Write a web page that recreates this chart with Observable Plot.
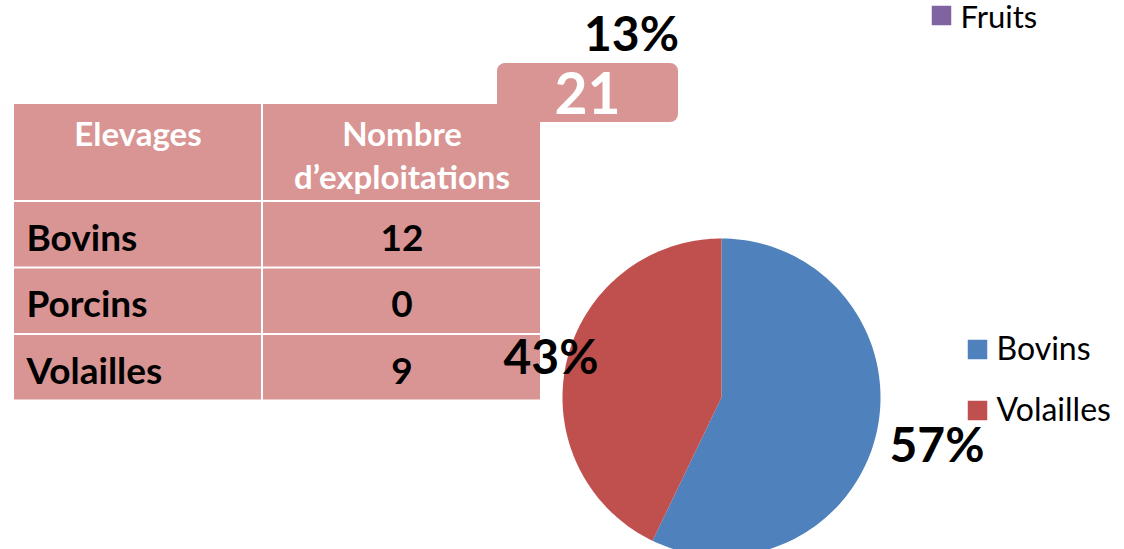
<!DOCTYPE html>
<html><head><meta charset="utf-8">
<script src="https://cdn.jsdelivr.net/npm/d3@7"></script>
<script src="https://cdn.jsdelivr.net/npm/@observablehq/plot@0.6"></script>
<style>html,body{margin:0;padding:0;background:#fff;overflow:hidden}</style>
</head><body><div id="chart"></div>
<script>
// ---- data ----
const elevages = ["Bovins", "Porcins", "Volailles"];
const exploitations = [12, 0, 9];
const headers = ["Elevages", "Nombre\nd’exploitations"];
const pieLegend = ["Bovins", "Volailles"];
const otherLegend = ["Fruits"];
const otherPercent = ["13%"];

// ---- styles / layout ----
const colorDomain = ["Bovins", "Volailles", "Fruits"];
const colorRange = ["#4F81BD", "#C0504D", "#8064A2"];
const pink = "#D99594";
const W = 1124, H = 549;
const font = "Lato, 'Open Sans', sans-serif";

// table layout
const colX = [[13, 262], [262, 541]];
const headerY = [103, 201];
const rowY = elevages.map((_, i) => [201 + i * 66.5, 201 + (i + 1) * 66.5]);

const cells = [];
headers.forEach((h, j) => cells.push({x1: colX[j][0], x2: colX[j][1], y1: headerY[0], y2: headerY[1]}));
elevages.forEach((e, i) => {
  colX.forEach(c => cells.push({x1: c[0], x2: c[1], y1: rowY[i][0], y2: rowY[i][1]}));
});

const headerText = headers.map((h, j) => ({text: h, x: (colX[j][0] + colX[j][1]) / 2, y: j === 0 ? 132 : 153}));
const nameText = elevages.map((e, i) => ({text: e, x: 26, y: (rowY[i][0] + rowY[i][1]) / 2 + 4}));
const valueText = exploitations.map((v, i) => ({text: String(v), x: (colX[1][0] + colX[1][1]) / 2, y: (rowY[i][0] + rowY[i][1]) / 2 + 4}));

const total = d3.sum(exploitations);

// pie
const cx = 721, cy = 397, R = 159;
const slices = elevages.map((e, i) => ({name: e, value: exploitations[i]})).filter(d => d.value > 0);
const pie = d3.pie().sort(null).value(d => d.value)(slices);
const piePts = [];
pie.forEach(p => {
  piePts.push({name: p.data.name, x: cx, y: cy});
  const n = 120;
  for (let k = 0; k <= n; k++) {
    const a = p.startAngle + (p.endAngle - p.startAngle) * k / n;
    piePts.push({name: p.data.name, x: cx + R * Math.sin(a), y: cy - R * Math.cos(a)});
  }
});
const labelR = [1.39 * R, 1.1 * R];
const pctLabels = pie.map((p, i) => {
  const a = (p.startAngle + p.endAngle) / 2;
  return {text: Math.round(100 * p.data.value / total) + "%", x: cx + labelR[i] * Math.sin(a), y: cy - labelR[i] * Math.cos(a)};
});

const legendItems = pieLegend.map((n, i) => ({name: n, x: 977, y: 349 + i * 61, ty: 349 + i * 61, fs: 32}))
  .concat(otherLegend.map(n => ({name: n, x: 941, y: 15, ty: 18, fs: 31})));

const chart = Plot.plot({
  width: W, height: H,
  margin: 0,
  x: {domain: [0, W], range: [0, W], axis: null},
  y: {domain: [0, H], range: [0, H], axis: null},
  color: {domain: colorDomain, range: colorRange},
  style: {fontFamily: font, background: "#fff"},
  marks: [
    // total box
    Plot.rect([total], {x1: 497, x2: 678, y1: 63, y2: 122, fill: pink, rx: 8}),
    Plot.rect([total], {x1: 497, x2: 540, y1: 100, y2: 130, fill: pink}),
    // table cells
    Plot.rect(cells, {x1: "x1", x2: "x2", y1: "y1", y2: "y2", fill: pink, inset: 1}),
    Plot.text(headerText, {x: "x", y: "y", text: "text", fill: "white", fontSize: 33, fontWeight: "bold", lineHeight: 1.3}),
    Plot.text(nameText, {x: "x", y: "y", text: "text", fill: "black", fontSize: 37, fontWeight: "bold", textAnchor: "start"}),
    Plot.text(valueText, {x: "x", y: "y", text: "text", fill: "black", fontSize: 37, fontWeight: "bold"}),
    Plot.text([total], {x: 587, y: 95, text: d => String(d), fill: "white", fontSize: 57, fontWeight: "bold"}),
    Plot.text(otherPercent, {x: 631, y: 35, text: d => d, fill: "black", fontSize: 48, fontWeight: "bold"}),
    // pie
    Plot.line(piePts, {x: "x", y: "y", z: "name", fill: "name", stroke: null, curve: "linear-closed"}),
    Plot.text(pctLabels, {x: "x", y: "y", text: "text", fill: "black", fontSize: 48, fontWeight: "bold"}),
    // legends
    Plot.dot(legendItems, {x: "x", y: "y", fill: "name", symbol: "square", r: 11}),
    Plot.text(legendItems.filter(d => d.fs === 32), {x: d => d.x + 19, y: "ty", text: "name", fill: "black", fontSize: 32, textAnchor: "start"}),
    Plot.text(legendItems.filter(d => d.fs === 31), {x: d => d.x + 19, y: "ty", text: "name", fill: "black", fontSize: 31, textAnchor: "start"})
  ]
});
document.getElementById("chart").appendChild(chart);
</script></body></html>
